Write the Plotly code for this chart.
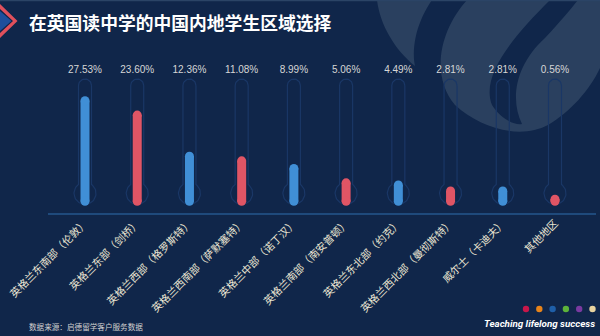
import numpy as np
import plotly.graph_objects as go

# ---- data -------------------------------------------------------------
regions = [
    "英格兰东南部（伦敦）",
    "英格兰东部（剑桥）",
    "英格兰西部（格罗斯特）",
    "英格兰西南部（萨默塞特）",
    "英格兰中部（诺丁汉）",
    "英格兰南部（南安普顿）",
    "英格兰东北部（约克）",
    "英格兰西北部（曼彻斯特）",
    "威尔士（卡迪夫）",
    "其他地区",
]
shares = [27.53, 23.60, 12.36, 11.08, 8.99, 5.06, 4.49, 2.81, 2.81, 0.56]
share_labels = [f"{v:.2f}%" for v in shares]

# ---- canvas / geometry (pixels) ---------------------------------------
W, H = 600, 336
PLOT_L, PLOT_R = 58.9, 581.1
PLOT_T, PLOT_B = 50.0, 214.0
ZERO_Y = 201.3            # pixel row of the 0 % level
PX_PER_PCT = 3.654        # vertical pixels per percentage point
LABEL_ROW = 70.0          # pixel row of the value labels

BG = "#10264a"
BLUE = "#408fd6"
RED = "#e05565"
TUBE = "#1a3766"
LIGHT = "#2a405f"

n = len(regions)
sx = (PLOT_R - PLOT_L) / n            # px per category unit
y_lo = -(PLOT_B - ZERO_Y) / PX_PER_PCT
y_hi = (ZERO_Y - PLOT_T) / PX_PER_PCT
label_y = (ZERO_Y - LABEL_ROW) / PX_PER_PCT


def px(x):
    return x / W


def py(y):
    return 1 - y / H


# thermometer outline (tube + bulb), built in pixels then mapped to data units
TUBE_W, BULB_R, BULB_Y, TUBE_TOP = 6.5, 11.0, 8.0, 115.8


def thermometer(cx):
    pts = []
    for a in np.linspace(0, np.pi, 24):
        pts.append((TUBE_W * np.cos(a), TUBE_TOP + TUBE_W * np.sin(a)))
    jy = np.sqrt(BULB_R ** 2 - TUBE_W ** 2)
    a0 = np.arctan2(jy, -TUBE_W)
    a1 = np.arctan2(jy, TUBE_W) + 2 * np.pi
    for a in np.linspace(a0, a1, 48):
        pts.append((BULB_R * np.cos(a), BULB_Y + BULB_R * np.sin(a)))
    pts.append(pts[0])
    xs = [cx + dx / sx for dx, _ in pts]
    ys = [dy / PX_PER_PCT for _, dy in pts]
    return xs, ys


fig = go.Figure()

tx, ty = [], []
for i in range(n):
    xs, ys = thermometer(i)
    tx += xs + [None]
    ty += ys + [None]
fig.add_trace(go.Scatter(x=tx, y=ty, mode="lines",
                         line=dict(color=TUBE, width=1.2),
                         hoverinfo="skip", showlegend=False))

# filled columns: alternating blue / red rounded pills
for colour, idx in ((BLUE, range(0, n, 2)), (RED, range(1, n, 2))):
    px_, py_ = [], []
    for i in idx:
        px_ += [i, i, None]
        py_ += [0, shares[i], None]
    fig.add_trace(go.Scatter(x=px_, y=py_, mode="lines+markers",
                             line=dict(color=colour, width=9),
                             marker=dict(color=colour, size=9),
                             connectgaps=False, hoverinfo="skip",
                             showlegend=False))

fig.add_trace(go.Scatter(x=list(range(n)), y=[label_y] * n, mode="text",
                         text=share_labels,
                         textfont=dict(family="Liberation Sans", size=10,
                                       color="#d6d6d6"),
                         hoverinfo="skip", showlegend=False))

# ---- decorative shapes -------------------------------------------------
def path(points):
    return "M " + " L ".join(f"{px(x):.5f},{py(y):.5f}" for x, y in points) + " Z"


def curve_path(segs):
    out = []
    for s in segs:
        cmd, coords = s[0], s[1:]
        out.append(cmd + " " + " ".join(f"{px(x):.5f},{py(y):.5f}" for x, y in coords))
    return " ".join(out)


shapes = []
# logo watermark, top right
shapes.append(dict(type="path", xref="paper", yref="paper", layer="below",
                   fillcolor=LIGHT, line=dict(width=0),
                   path=curve_path([
                       ("M", (377, 0)),
                       ("C", (380, 25), (395, 50), (415, 66)),
                       ("C", (411, 45), (418, 20), (432, 0)),
                       ("Z",),
                   ])))
shapes.append(dict(type="path", xref="paper", yref="paper", layer="below",
                   fillcolor=LIGHT, line=dict(width=0), fillrule="evenodd",
                   path=curve_path([
                       ("M", (467, 0)),
                       ("C", (440, 30), (430, 75), (455, 105)),
                       ("C", (480, 128), (520, 140), (548, 125)),
                       ("C", (570, 112), (590, 90), (600, 68)),
                       ("L", (600, 0)),
                       ("Z",),
                       ("M", (550, 0)),
                       ("C", (515, 35), (480, 75), (492, 105)),
                       ("C", (500, 118), (515, 126), (522, 124)),
                       ("C", (510, 100), (515, 65), (545, 38)),
                       ("C", (560, 22), (570, 10), (578, 0)),
                       ("Z",),
                   ])))
# top border
shapes.append(dict(type="line", xref="paper", yref="paper",
                   x0=0, x1=1, y0=py(0.5), y1=py(0.5),
                   line=dict(color="#2b4466", width=1.5)))
# title chevron
shapes.append(dict(type="path", xref="paper", yref="paper",
                   fillcolor="#e0505c", line=dict(width=0),
                   path=path([(0, 4), (17.5, 21), (0, 38), (0, 33), (13, 21), (0, 9)])))
shapes.append(dict(type="path", xref="paper", yref="paper",
                   fillcolor="#1e4f9c", line=dict(width=0),
                   path=path([(0, 11), (11.5, 21), (0, 31)])))
# baseline
shapes.append(dict(type="line", xref="paper", yref="paper",
                   x0=px(48), x1=px(596), y0=py(214), y1=py(214),
                   line=dict(color="#1f4a7c", width=2)))
# brand dots
dot_colours = ["#c8174a", "#e8841a", "#1f5fa8", "#5db33a", "#7a3aa0", "#e8d3a0"]
for k, c in enumerate(dot_colours):
    cx = 526 + k * 13.3
    shapes.append(dict(type="circle", xref="paper", yref="paper",
                       x0=px(cx - 3.2), x1=px(cx + 3.2), y0=py(312.2), y1=py(305.8),
                       fillcolor=c, line=dict(width=0)))

annotations = [
    dict(text="在英国读中学的中国内地学生区域选择", x=px(27), y=py(22),
         xref="paper", yref="paper", xanchor="left", yanchor="middle",
         showarrow=False,
         font=dict(family="Noto Sans CJK SC", size=17.8, color="white",
                   weight="bold")),
    dict(text="数据来源：启德留学客户服务数据", x=px(27), y=py(326),
         xref="paper", yref="paper", xanchor="left", yanchor="middle",
         showarrow=False,
         font=dict(family="Noto Sans CJK SC", size=7.6, color="#d0d0d0")),
    dict(text="<b><i>Teaching lifelong success</i></b>", x=px(597), y=py(323),
         xref="paper", yref="paper", xanchor="right", yanchor="middle",
         showarrow=False,
         font=dict(family="Roboto", size=9.8, color="white")),
]

fig.update_layout(
    width=W, height=H,
    margin=dict(l=0, r=0, t=0, b=0, autoexpand=False),
    paper_bgcolor=BG, plot_bgcolor="rgba(0,0,0,0)",
    shapes=shapes, annotations=annotations,
    xaxis=dict(domain=[px(PLOT_L), px(PLOT_R)], range=[-0.5, n - 0.5],
               tickvals=list(range(n)), ticktext=regions, tickangle=-45,
               showgrid=False, zeroline=False, showline=False, ticks="",
               automargin=False,
               tickfont=dict(family="Noto Sans CJK SC", size=10.5,
                             color="#ece6d4"),
               fixedrange=True),
    yaxis=dict(domain=[py(PLOT_B), py(PLOT_T)], range=[y_lo, y_hi],
               visible=False, automargin=False, fixedrange=True),
    showlegend=False,
)

fig.write_html("out.html")
